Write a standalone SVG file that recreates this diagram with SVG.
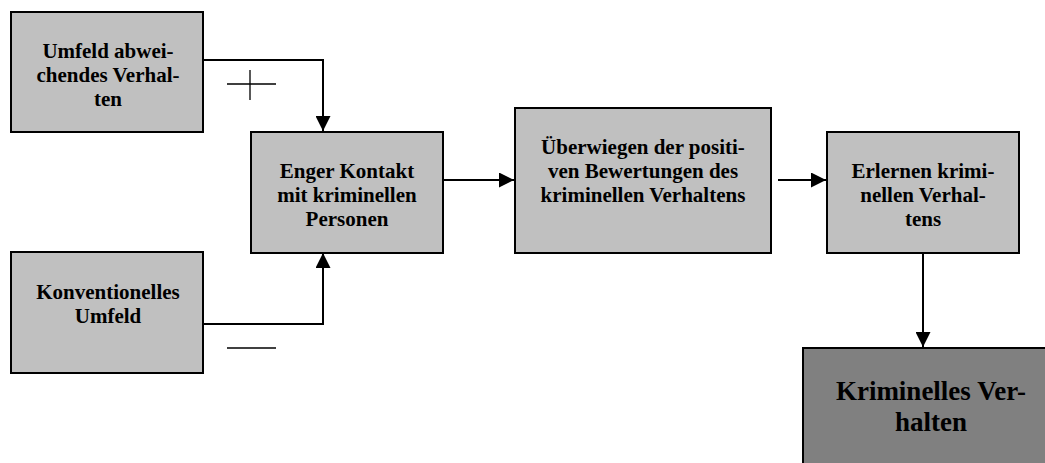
<svg xmlns="http://www.w3.org/2000/svg" width="1045" height="463" viewBox="0 0 1045 463">
  <style>
    .box { fill: #c0c0c0; stroke: #000; stroke-width: 2; }
    .box-dark { fill: #808080; stroke: #000; stroke-width: 2; }
    .lbl { font-weight: bold; font-size: 21px; fill: #000; text-anchor: middle; }
    .lbl-big { font-size: 27px; }
    .conn { fill: none; stroke: #000; stroke-width: 2; }
    .sign { fill: none; stroke: #000; stroke-width: 1.3; }
  </style>
  <defs>
    <marker id="arrow" markerWidth="15" markerHeight="15" viewBox="0 0 15 15" refX="15" refY="7.5" orient="auto" markerUnits="userSpaceOnUse">
      <path d="M0,0 L15,7.5 L0,15 Z" fill="#000"/>
    </marker>
  </defs>

  <rect width="1045" height="463" fill="#fff"/>

  <g id="connectors">
    <path class="conn" d="M203,60 H323 V131" marker-end="url(#arrow)"/>
    <path class="conn" d="M203,324 H323 V253" marker-end="url(#arrow)"/>
    <path class="conn" d="M443,180 H514" marker-end="url(#arrow)"/>
    <path class="conn" d="M778,180 H826" marker-end="url(#arrow)"/>
    <path class="conn" d="M923,253 V347" marker-end="url(#arrow)"/>
    <!-- sign marks on the two inputs -->
    <path class="sign" d="M227,84 H276 M250,70 V100"/>
    <path class="sign" d="M227,348 H276"/>
  </g>

  <g font-family="'Liberation Serif', 'DejaVu Serif', serif">
    <g id="umfeld-abweichend">
      <rect class="box" x="11" y="12" width="192" height="120"/>
      <text class="lbl" x="108" y="58">Umfeld abwei-</text>
      <text class="lbl" x="108" y="82">chendes Verhal-</text>
      <text class="lbl" x="108" y="106">ten</text>
    </g>

    <g id="konventionell">
      <rect class="box" x="11" y="252" width="192" height="121"/>
      <text class="lbl" x="108" y="299">Konventionelles</text>
      <text class="lbl" x="108" y="323">Umfeld</text>
    </g>

    <g id="kontakt">
      <rect class="box" x="251" y="132" width="192" height="121"/>
      <text class="lbl" x="347" y="178">Enger Kontakt</text>
      <text class="lbl" x="347" y="202">mit kriminellen</text>
      <text class="lbl" x="347" y="226">Personen</text>
    </g>

    <g id="bewertungen">
      <rect class="box" x="515" y="108" width="256" height="145"/>
      <text class="lbl" x="643" y="154">Überwiegen der positi-</text>
      <text class="lbl" x="643" y="178">ven Bewertungen des</text>
      <text class="lbl" x="643" y="202">kriminellen Verhaltens</text>
    </g>

    <g id="erlernen">
      <rect class="box" x="827" y="132" width="192" height="121"/>
      <text class="lbl" x="923" y="178">Erlernen krimi-</text>
      <text class="lbl" x="923" y="202">nellen Verhal-</text>
      <text class="lbl" x="923" y="226">tens</text>
    </g>

    <g id="kriminelles-verhalten">
      <rect class="box-dark" x="803" y="348" width="260" height="130"/>
      <text class="lbl lbl-big" x="931" y="400">Kriminelles Ver-</text>
      <text class="lbl lbl-big" x="931" y="431">halten</text>
    </g>
  </g>
</svg>
